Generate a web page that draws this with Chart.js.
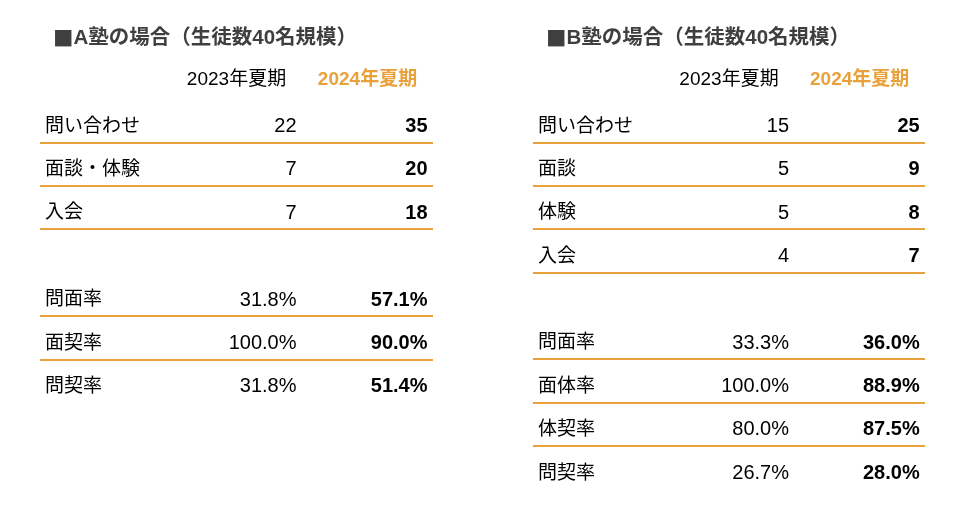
<!DOCTYPE html>
<html><head><meta charset="utf-8">
<script src="https://cdn.jsdelivr.net/npm/chart.js@4"></script>
<style>
html,body{margin:0;padding:0;background:#fff;width:961px;height:515px;overflow:hidden;}
.box{position:absolute;top:0;height:515px;}
#wa{left:0;width:480px;}
#wb{left:480px;width:481px;}
</style></head>
<body>
<div class="box" id="wa"><canvas id="ca"></canvas></div>
<div class="box" id="wb"><canvas id="cb"></canvas></div>
<script>
// ---- data ----
const columns = ['', '2023年夏期', '2024年夏期'];

const titleA = '■A塾の場合（生徒数40名規模）';
const countRowsA = ['問い合わせ', '面談・体験', '入会'];
const counts2023A = [22, 7, 7];
const counts2024A = [35, 20, 18];
const rateRowsA = ['問面率', '面契率', '問契率'];
const rates2023A = [31.8, 100.0, 31.8];
const rates2024A = [57.1, 90.0, 51.4];

const titleB = '■B塾の場合（生徒数40名規模）';
const countRowsB = ['問い合わせ', '面談', '体験', '入会'];
const counts2023B = [15, 5, 5, 4];
const counts2024B = [25, 9, 8, 7];
const rateRowsB = ['問面率', '面体率', '体契率', '問契率'];
const rates2023B = [33.3, 100.0, 80.0, 26.7];
const rates2024B = [36.0, 88.9, 87.5, 28.0];

// ---- styling ----
const FONT = "'Liberation Sans', 'Noto Sans CJK JP', sans-serif";
const CJK = "'Noto Sans CJK JP', sans-serif";
const ORANGE = 'rgb(233,162,59)';

function build(canvasId, title, countRows, c23, c24, rateRows, r23, r24, pad) {
  const rows = [...countRows, '', ...rateRows];
  const mk = (col, counts, rates) => [
    ...countRows.map((r, i) => ({x: col, y: r, t: String(counts[i])})),
    ...rateRows.map((r, i) => ({x: col, y: r, t: rates[i].toFixed(1) + '%'}))
  ];
  const textPlugin = {
    id: 'tableText',
    afterDatasetsDraw(chart) {
      const ctx = chart.ctx;
      const area = chart.chartArea;
      const ys = chart.scales.y;
      const dy = 5.5;
      ctx.save();
      ctx.textBaseline = 'middle';
      // title: the leading square from the CJK font, the rest mixed
      ctx.fillStyle = '#3f3f3f';
      ctx.textAlign = 'left';
      const tx = area.left + 13;
      ctx.font = 'bold 20.5px ' + CJK;
      const head = title.charAt(0);
      ctx.fillText(head, tx, 38);
      const w = ctx.measureText(head).width;
      ctx.font = 'bold 20.5px ' + FONT;
      ctx.fillText(title.slice(1), tx + w, 38);
      // row labels
      ctx.fillStyle = '#000';
      ctx.font = '19px ' + FONT;
      rows.forEach((r, i) => {
        if (!r) return;
        ctx.fillText(r, area.left + 5, ys.getPixelForValue(i) + dy);
      });
      // cell values
      chart.data.datasets.forEach((ds, di) => {
        const meta = chart.getDatasetMeta(di);
        ctx.font = (di === 1 ? 'bold ' : '') + '20px ' + FONT;
        ctx.textAlign = 'right';
        meta.data.forEach((el, j) => {
          ctx.fillText(ds.data[j].t, el.x + 60, el.y + dy);
        });
      });
      ctx.restore();
    }
  };
  return new Chart(document.getElementById(canvasId), {
    type: 'scatter',
    data: {
      datasets: [
        {label: columns[1], data: mk(columns[1], c23, r23), pointRadius: 0},
        {label: columns[2], data: mk(columns[2], c24, r24), pointRadius: 0}
      ]
    },
    options: {
      responsive: true,
      maintainAspectRatio: false,
      animation: false,
      events: [],
      layout: {padding: pad},
      plugins: {legend: {display: false}, tooltip: {enabled: false}},
      scales: {
        x: {
          type: 'category',
          labels: columns,
          position: 'top',
          offset: true,
          grid: {display: false, drawTicks: false},
          border: {display: false},
          ticks: {
            padding: 8.5,
            color: c => c.index === 2 ? ORANGE : '#000',
            font: c => ({family: FONT, size: 19, weight: c.index === 2 ? 'bold' : 'normal'})
          }
        },
        y: {
          type: 'category',
          labels: rows,
          offset: true,
          grid: {
            offset: true,
            drawTicks: false,
            lineWidth: 2,
            color: c => {
              const k = c.index;
              if (k < 1 || k >= rows.length) return 'rgba(0,0,0,0)';
              return rows[k - 1] ? ORANGE : 'rgba(0,0,0,0)';
            }
          },
          border: {display: false},
          ticks: {display: false}
        }
      }
    },
    plugins: [textPlugin]
  });
}

build('ca', titleA, countRowsA, counts2023A, counts2024A, rateRowsA, rates2023A, rates2024A,
  {top: 59.5, left: 40, right: 47, bottom: 112});
build('cb', titleB, countRowsB, counts2023B, counts2024B, rateRowsB, rates2023B, rates2024B,
  {top: 59.5, left: 53, right: 36, bottom: 25.5});
</script>
</body></html>
